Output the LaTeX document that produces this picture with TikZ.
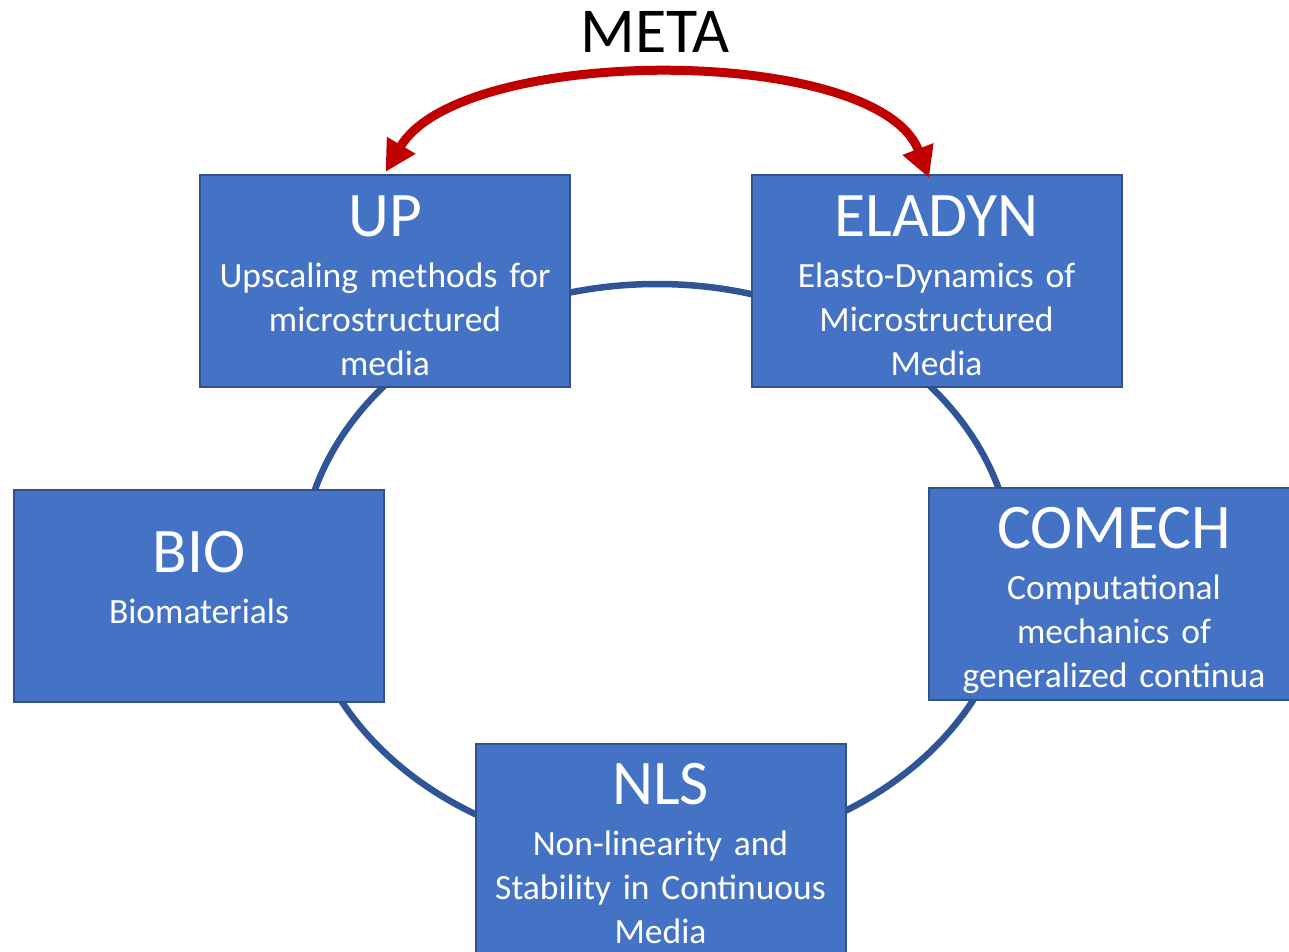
\documentclass[tikz,border=0pt]{standalone}
\usepackage{fontspec}
\setmainfont{Carlito}
\usetikzlibrary{arrows.meta}
\definecolor{boxfill}{HTML}{4472C4}
\definecolor{boxline}{HTML}{2F528F}
\definecolor{ringcol}{HTML}{2F5597}
\definecolor{arrred}{HTML}{C00000}
\tikzset{
  box/.style={draw=boxline, line width=2pt, fill=boxfill, minimum width=370pt, minimum height=212pt, inner sep=0pt},
  ttl/.style={text=white, font=\fontsize{63.5}{76}\selectfont, anchor=base, inner sep=0pt},
  sub/.style={text=white, font=\fontsize{35.5}{44}\selectfont, anchor=base, inner sep=0pt, text width=366pt, align=center},
  ring/.style={draw=ringcol, line width=6.5pt},
  meta/.style={draw=arrred, line width=9pt, {Triangle[length=31pt,width=31pt]}-{Triangle[length=31pt,width=31pt]}}
}
\begin{document}
\begin{tikzpicture}[x=1pt,y=-1pt]
\clip (0,0) rectangle (1289,952);
\fill[white] (0,0) rectangle (1289,952);
\draw[ring] (657,569) ellipse [x radius=356pt, y radius=285pt];
\node[box] (up) at (385,281) {};
\node[box] (eladyn) at (936.5,281) {};
\node[box] (bio) at (199,595.5) {};
\node[box] (comech) at (1114,593.5) {};
\node[box] (nls) at (660.5,850) {};
\node[ttl] (upT) at ([yshift=-62pt]up.north) {UP};
\node[sub] (upS) at ([yshift=-113pt]up.north) {Upscaling methods for\\microstructured\\media};
\node[ttl] (elT) at ([yshift=-62pt]eladyn.north) {ELADYN};
\node[sub] (elS) at ([yshift=-113pt]eladyn.north) {Elasto-Dynamics of\\Microstructured\\Media};
\node[ttl] (bioT) at ([yshift=-84pt]bio.north) {BIO};
\node[sub] (bioS) at ([yshift=-135pt]bio.north) {Biomaterials};
\node[ttl] (coT) at ([yshift=-62pt]comech.north) {COMECH};
\node[sub] (coS) at ([yshift=-113pt]comech.north) {Computational\\mechanics of\\generalized continua};
\node[ttl] (nlsT) at ([yshift=-61pt]nls.north) {NLS};
\node[sub] (nlsS) at ([yshift=-112pt]nls.north) {Non-linearity and\\Stability in Continuous\\Media};
\node[font=\fontsize{64}{76}\selectfont, anchor=base, inner sep=0pt] (meta) at (655,53) {META};
\coordinate (lt) at (385.5,172);
\coordinate (rt) at (929,178);
\draw[meta] (lt) .. controls (461,44) and (878,44) .. (rt);
\end{tikzpicture}
\end{document}
